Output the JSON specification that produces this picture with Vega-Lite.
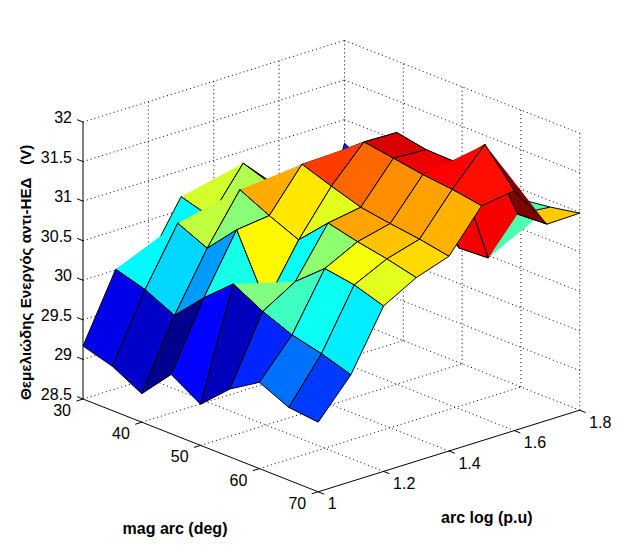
{"$schema":"https://vega.github.io/schema/vega-lite/v6.json","width":641,"height":553,"padding":0,"autosize":{"type":"none"},"background":"white","config":{"view":{"stroke":null},"text":{"font":"Liberation Sans"}},
"datasets":{
"grid":[
{"id":"30_18","mag":30,"arc":1.8,"volts":30.70},{"id":"30_17","mag":30,"arc":1.7,"volts":29.35},{"id":"30_16","mag":30,"arc":1.6,"volts":30.00},{"id":"30_15","mag":30,"arc":1.5,"volts":30.40},{"id":"30_14","mag":30,"arc":1.4,"volts":30.62},{"id":"30_13","mag":30,"arc":1.3,"volts":30.67},{"id":"30_12","mag":30,"arc":1.2,"volts":30.00},{"id":"30_11","mag":30,"arc":1.1,"volts":30.01},{"id":"30_10","mag":30,"arc":1.0,"volts":29.17},
{"id":"35_18","mag":35,"arc":1.8,"volts":30.50},{"id":"35_17","mag":35,"arc":1.7,"volts":30.20},{"id":"35_16","mag":35,"arc":1.6,"volts":30.30},{"id":"35_15","mag":35,"arc":1.5,"volts":30.70},{"id":"35_14","mag":35,"arc":1.4,"volts":31.11},{"id":"35_13","mag":35,"arc":1.3,"volts":30.56},{"id":"35_12","mag":35,"arc":1.2,"volts":30.61},{"id":"35_11","mag":35,"arc":1.1,"volts":29.90},{"id":"35_10","mag":35,"arc":1.0,"volts":29.06},
{"id":"40_18","mag":40,"arc":1.8,"volts":30.50},{"id":"40_17","mag":40,"arc":1.7,"volts":30.60},{"id":"40_16","mag":40,"arc":1.6,"volts":31.00},{"id":"40_15","mag":40,"arc":1.5,"volts":31.00},{"id":"40_14","mag":40,"arc":1.4,"volts":30.98},{"id":"40_13","mag":40,"arc":1.3,"volts":31.05},{"id":"40_12","mag":40,"arc":1.2,"volts":30.44},{"id":"40_11","mag":40,"arc":1.1,"volts":29.72},{"id":"40_10","mag":40,"arc":1.0,"volts":28.86},
{"id":"45_18","mag":45,"arc":1.8,"volts":30.40},{"id":"45_17","mag":45,"arc":1.7,"volts":30.80},{"id":"45_16","mag":45,"arc":1.6,"volts":31.30},{"id":"45_15","mag":45,"arc":1.5,"volts":31.40},{"id":"45_14","mag":45,"arc":1.4,"volts":31.39},{"id":"45_13","mag":45,"arc":1.3,"volts":30.87},{"id":"45_12","mag":45,"arc":1.2,"volts":30.82},{"id":"45_11","mag":45,"arc":1.1,"volts":30.09},{"id":"45_10","mag":45,"arc":1.0,"volts":29.25},
{"id":"50_18","mag":50,"arc":1.8,"volts":30.30},{"id":"50_17","mag":50,"arc":1.7,"volts":30.60},{"id":"50_16","mag":50,"arc":1.6,"volts":31.68},{"id":"50_15","mag":50,"arc":1.5,"volts":31.69},{"id":"50_14","mag":50,"arc":1.4,"volts":31.26},{"id":"50_13","mag":50,"arc":1.3,"volts":30.71},{"id":"50_12","mag":50,"arc":1.2,"volts":30.04},{"id":"50_11","mag":50,"arc":1.1,"volts":30.41},{"id":"50_10","mag":50,"arc":1.0,"volts":29.02},
{"id":"55_18","mag":55,"arc":1.8,"volts":30.30},{"id":"55_17","mag":55,"arc":1.7,"volts":30.24},{"id":"55_16","mag":55,"arc":1.6,"volts":31.61},{"id":"55_15","mag":55,"arc":1.5,"volts":31.63},{"id":"55_14","mag":55,"arc":1.4,"volts":31.14},{"id":"55_13","mag":55,"arc":1.3,"volts":31.07},{"id":"55_12","mag":55,"arc":1.2,"volts":30.46},{"id":"55_11","mag":55,"arc":1.1,"volts":30.21},{"id":"55_10","mag":55,"arc":1.0,"volts":29.36},
{"id":"60_18","mag":60,"arc":1.8,"volts":30.87},{"id":"60_17","mag":60,"arc":1.7,"volts":30.26},{"id":"60_16","mag":60,"arc":1.6,"volts":31.60},{"id":"60_15","mag":60,"arc":1.5,"volts":31.57},{"id":"60_14","mag":60,"arc":1.4,"volts":31.08},{"id":"60_13","mag":60,"arc":1.3,"volts":30.98},{"id":"60_12","mag":60,"arc":1.2,"volts":30.77},{"id":"60_11","mag":60,"arc":1.1,"volts":30.06},{"id":"60_10","mag":60,"arc":1.0,"volts":29.59},
{"id":"65_18","mag":65,"arc":1.8,"volts":30.92},{"id":"65_17","mag":65,"arc":1.7,"volts":30.96},{"id":"65_16","mag":65,"arc":1.6,"volts":31.97},{"id":"65_15","mag":65,"arc":1.5,"volts":31.53},{"id":"65_14","mag":65,"arc":1.4,"volts":31.03},{"id":"65_13","mag":65,"arc":1.3,"volts":30.91},{"id":"65_12","mag":65,"arc":1.2,"volts":30.71},{"id":"65_11","mag":65,"arc":1.1,"volts":29.97},{"id":"65_10","mag":65,"arc":1.0,"volts":29.42},
{"id":"70_18","mag":70,"arc":1.8,"volts":30.99},{"id":"70_17","mag":70,"arc":1.7,"volts":30.98},{"id":"70_16","mag":70,"arc":1.6,"volts":31.53},{"id":"70_15","mag":70,"arc":1.5,"volts":31.47},{"id":"70_14","mag":70,"arc":1.4,"volts":30.96},{"id":"70_13","mag":70,"arc":1.3,"volts":30.82},{"id":"70_12","mag":70,"arc":1.2,"volts":30.59},{"id":"70_11","mag":70,"arc":1.1,"volts":29.85},{"id":"70_10","mag":70,"arc":1.0,"volts":29.38}
],
"gridlines":[
{"m1":30,"a1":1,"z1":28.5,"m2":30,"a2":1.8,"z2":28.5},{"m1":40,"a1":1,"z1":28.5,"m2":40,"a2":1.8,"z2":28.5},{"m1":50,"a1":1,"z1":28.5,"m2":50,"a2":1.8,"z2":28.5},{"m1":60,"a1":1,"z1":28.5,"m2":60,"a2":1.8,"z2":28.5},
{"m1":30,"a1":1.2,"z1":28.5,"m2":70,"a2":1.2,"z2":28.5},{"m1":30,"a1":1.4,"z1":28.5,"m2":70,"a2":1.4,"z2":28.5},{"m1":30,"a1":1.6,"z1":28.5,"m2":70,"a2":1.6,"z2":28.5},{"m1":30,"a1":1.8,"z1":28.5,"m2":70,"a2":1.8,"z2":28.5},
{"m1":30,"a1":1,"z1":29,"m2":30,"a2":1.8,"z2":29},{"m1":30,"a1":1,"z1":29.5,"m2":30,"a2":1.8,"z2":29.5},{"m1":30,"a1":1,"z1":30,"m2":30,"a2":1.8,"z2":30},{"m1":30,"a1":1,"z1":30.5,"m2":30,"a2":1.8,"z2":30.5},{"m1":30,"a1":1,"z1":31,"m2":30,"a2":1.8,"z2":31},{"m1":30,"a1":1,"z1":31.5,"m2":30,"a2":1.8,"z2":31.5},{"m1":30,"a1":1,"z1":32,"m2":30,"a2":1.8,"z2":32},
{"m1":30,"a1":1.8,"z1":29,"m2":70,"a2":1.8,"z2":29},{"m1":30,"a1":1.8,"z1":29.5,"m2":70,"a2":1.8,"z2":29.5},{"m1":30,"a1":1.8,"z1":30,"m2":70,"a2":1.8,"z2":30},{"m1":30,"a1":1.8,"z1":30.5,"m2":70,"a2":1.8,"z2":30.5},{"m1":30,"a1":1.8,"z1":31,"m2":70,"a2":1.8,"z2":31},{"m1":30,"a1":1.8,"z1":31.5,"m2":70,"a2":1.8,"z2":31.5},{"m1":30,"a1":1.8,"z1":32,"m2":70,"a2":1.8,"z2":32},
{"m1":30,"a1":1.2,"z1":28.5,"m2":30,"a2":1.2,"z2":32},{"m1":30,"a1":1.4,"z1":28.5,"m2":30,"a2":1.4,"z2":32},{"m1":30,"a1":1.6,"z1":28.5,"m2":30,"a2":1.6,"z2":32},{"m1":30,"a1":1.8,"z1":28.5,"m2":30,"a2":1.8,"z2":32},
{"m1":40,"a1":1.8,"z1":28.5,"m2":40,"a2":1.8,"z2":32},{"m1":50,"a1":1.8,"z1":28.5,"m2":50,"a2":1.8,"z2":32},{"m1":60,"a1":1.8,"z1":28.5,"m2":60,"a2":1.8,"z2":32},{"m1":70,"a1":1.8,"z1":28.5,"m2":70,"a2":1.8,"z2":32}
],
"axislines":[
{"m1":30,"a1":1,"z1":28.5,"m2":30,"a2":1,"z2":32},{"m1":30,"a1":1,"z1":28.5,"m2":70,"a2":1,"z2":28.5},{"m1":70,"a1":1,"z1":28.5,"m2":70,"a2":1.8,"z2":28.5},
{"m1":30,"a1":1,"z1":28.5,"m2":29,"a2":1,"z2":28.5},{"m1":30,"a1":1,"z1":29,"m2":29,"a2":1,"z2":29},{"m1":30,"a1":1,"z1":29.5,"m2":29,"a2":1,"z2":29.5},{"m1":30,"a1":1,"z1":30,"m2":29,"a2":1,"z2":30},{"m1":30,"a1":1,"z1":30.5,"m2":29,"a2":1,"z2":30.5},{"m1":30,"a1":1,"z1":31,"m2":29,"a2":1,"z2":31},{"m1":30,"a1":1,"z1":31.5,"m2":29,"a2":1,"z2":31.5},{"m1":30,"a1":1,"z1":32,"m2":29,"a2":1,"z2":32},
{"m1":30,"a1":1,"z1":28.5,"m2":30,"a2":0.98,"z2":28.5},{"m1":40,"a1":1,"z1":28.5,"m2":40,"a2":0.98,"z2":28.5},{"m1":50,"a1":1,"z1":28.5,"m2":50,"a2":0.98,"z2":28.5},{"m1":60,"a1":1,"z1":28.5,"m2":60,"a2":0.98,"z2":28.5},{"m1":70,"a1":1,"z1":28.5,"m2":70,"a2":0.98,"z2":28.5},
{"m1":70,"a1":1,"z1":28.5,"m2":71,"a2":1,"z2":28.5},{"m1":70,"a1":1.2,"z1":28.5,"m2":71,"a2":1.2,"z2":28.5},{"m1":70,"a1":1.4,"z1":28.5,"m2":71,"a2":1.4,"z2":28.5},{"m1":70,"a1":1.6,"z1":28.5,"m2":71,"a2":1.6,"z2":28.5},{"m1":70,"a1":1.8,"z1":28.5,"m2":71,"a2":1.8,"z2":28.5}
]
},
"encoding":{
"x":{"field":"sx","type":"quantitative","axis":null,"scale":{"domain":[0,641],"nice":false,"zero":false}},
"y":{"field":"sy","type":"quantitative","axis":null,"scale":{"domain":[553,0],"nice":false,"zero":false}}
},
"layer":[
{"data":{"name":"gridlines"},
"transform":[{"calculate":"83+(datum.m1-30)*5.88+(datum.a1-1)*326.9","as":"sx"},{"calculate":"399+(datum.m1-30)*2.32-(datum.a1-1)*102-(datum.z1-28.5)*79.14","as":"sy"},{"calculate":"83+(datum.m2-30)*5.88+(datum.a2-1)*326.9","as":"sx2"},{"calculate":"399+(datum.m2-30)*2.32-(datum.a2-1)*102-(datum.z2-28.5)*79.14","as":"sy2"}],
"mark":{"type":"rule","color":"black","strokeWidth":1,"strokeDash":[1,3]},
"encoding":{"x2":{"field":"sx2"},"y2":{"field":"sy2"}}},
{"data":{"name":"axislines"},
"transform":[{"calculate":"83+(datum.m1-30)*5.88+(datum.a1-1)*326.9","as":"sx"},{"calculate":"399+(datum.m1-30)*2.32-(datum.a1-1)*102-(datum.z1-28.5)*79.14","as":"sy"},{"calculate":"83+(datum.m2-30)*5.88+(datum.a2-1)*326.9","as":"sx2"},{"calculate":"399+(datum.m2-30)*2.32-(datum.a2-1)*102-(datum.z2-28.5)*79.14","as":"sy2"}],
"mark":{"type":"rule","color":"black","strokeWidth":1},
"encoding":{"x2":{"field":"sx2"},"y2":{"field":"sy2"}}},
{"data":{"name":"grid"},
"transform":[
{"filter":"datum.mag<70 && datum.arc<1.8"},
{"calculate":"datum.volts","as":"c"},
{"calculate":"{'30_11':[0,1,2],'30_13':[0,1,2],'35_12':[0,1,2],'40_13':[0,1,2],'45_14':[0,1,2],'50_11':[0,1,2],'60_15':[0,1,2],'60_16':[3,0,1,2],'60_17':[2,3,0],'65_16':[0,3,2,1,2]}[datum.id] || [0,1,2,3,0]","as":"path"},
{"calculate":"[0,1,2,3,4]","as":"ords"},
{"calculate":"datum.id","as":"cell"},
{"flatten":["path","ords"],"as":["k","ord"]},
{"filter":"datum.k!==null"},
{"calculate":"datum.mag+((datum.k==1||datum.k==2)?5:0)","as":"cm"},
{"calculate":"round(datum.arc*10)+((datum.k==2||datum.k==3)?1:0)","as":"ca"},
{"calculate":"datum.cm+'_'+datum.ca","as":"ckey"},
{"lookup":"ckey","from":{"data":{"name":"grid"},"key":"id","fields":["volts"]},"as":["cz"]},
{"calculate":"83+(datum.cm-30)*5.88+(datum.ca/10-1)*326.9","as":"sx"},
{"calculate":"399+(datum.cm-30)*2.32-(datum.ca/10-1)*102-(datum.cz-28.5)*79.14","as":"sy"}
],
"mark":{"type":"line","stroke":"black","strokeWidth":1,"strokeJoin":"miter"},
"encoding":{
"detail":{"field":"cell"},
"order":{"field":"ord","type":"quantitative"},
"fill":{"field":"c","type":"quantitative","legend":null,"scale":{"domain":[28.86,29.2475,30.0225,30.7975,31.5725,31.97],"range":["#00008f","#0000ff","#00ffff","#ffff00","#ff0000","#800000"],"interpolate":"rgb"}}
}},
{"data":{"values":[{"label":"28.5","v":28.5},{"label":"29","v":29},{"label":"29.5","v":29.5},{"label":"30","v":30},{"label":"30.5","v":30.5},{"label":"31","v":31},{"label":"31.5","v":31.5},{"label":"32","v":32}]},
"transform":[{"calculate":"83","as":"sx"},{"calculate":"399-(datum.v-28.5)*79.14","as":"sy"}],
"mark":{"type":"text","align":"right","baseline":"middle","dx":-11,"dy":-4,"fontSize":16,"font":"Liberation Sans"},
"encoding":{"text":{"field":"label"}}},
{"data":{"values":[{"label":"30","v":30},{"label":"40","v":40},{"label":"50","v":50},{"label":"60","v":60},{"label":"70","v":70}]},
"transform":[{"calculate":"83+(datum.v-30)*5.88","as":"sx"},{"calculate":"399+(datum.v-30)*2.32","as":"sy"}],
"mark":{"type":"text","align":"right","baseline":"middle","dx":-12,"dy":12,"fontSize":16,"font":"Liberation Sans"},
"encoding":{"text":{"field":"label"}}},
{"data":{"values":[{"label":"1","v":1},{"label":"1.2","v":1.2},{"label":"1.4","v":1.4},{"label":"1.6","v":1.6},{"label":"1.8","v":1.8}]},
"transform":[{"calculate":"318.2+(datum.v-1)*326.9","as":"sx"},{"calculate":"491.8-(datum.v-1)*102","as":"sy"}],
"mark":{"type":"text","align":"left","baseline":"middle","dx":9.5,"dy":12.5,"fontSize":16,"font":"Liberation Sans"},
"encoding":{"text":{"field":"label"}}},
{"data":{"values":[{"label":"mag arc (deg)","v":50}]},
"transform":[{"calculate":"83+(datum.v-30)*5.88","as":"sx"},{"calculate":"399+(datum.v-30)*2.32","as":"sy"}],
"mark":{"type":"text","align":"center","baseline":"middle","dx":-25.6,"dy":84,"fontSize":16,"fontWeight":"bold","font":"Liberation Sans"},
"encoding":{"text":{"field":"label"}}},
{"data":{"values":[{"label":"arc log (p.u)","v":1.4}]},
"transform":[{"calculate":"318.2+(datum.v-1)*326.9","as":"sx"},{"calculate":"491.8-(datum.v-1)*102","as":"sy"}],
"mark":{"type":"text","align":"center","baseline":"middle","dx":37.9,"dy":66.5,"fontSize":16,"fontWeight":"bold","font":"Liberation Sans"},
"encoding":{"text":{"field":"label"}}},
{"data":{"values":[{"label":"Θεμελιώδης Ενεργός αντι-ΗΕΔ \u00a0\u00a0(V)","v":30}]},
"transform":[{"calculate":"83","as":"sx"},{"calculate":"399-(datum.v-28.5)*79.14","as":"sy"}],
"mark":{"type":"text","align":"center","baseline":"middle","angle":270,"dx":8,"dy":-57,"fontSize":15.2,"fontWeight":"bold","font":"Liberation Sans"},
"encoding":{"text":{"field":"label"}}}
]}
